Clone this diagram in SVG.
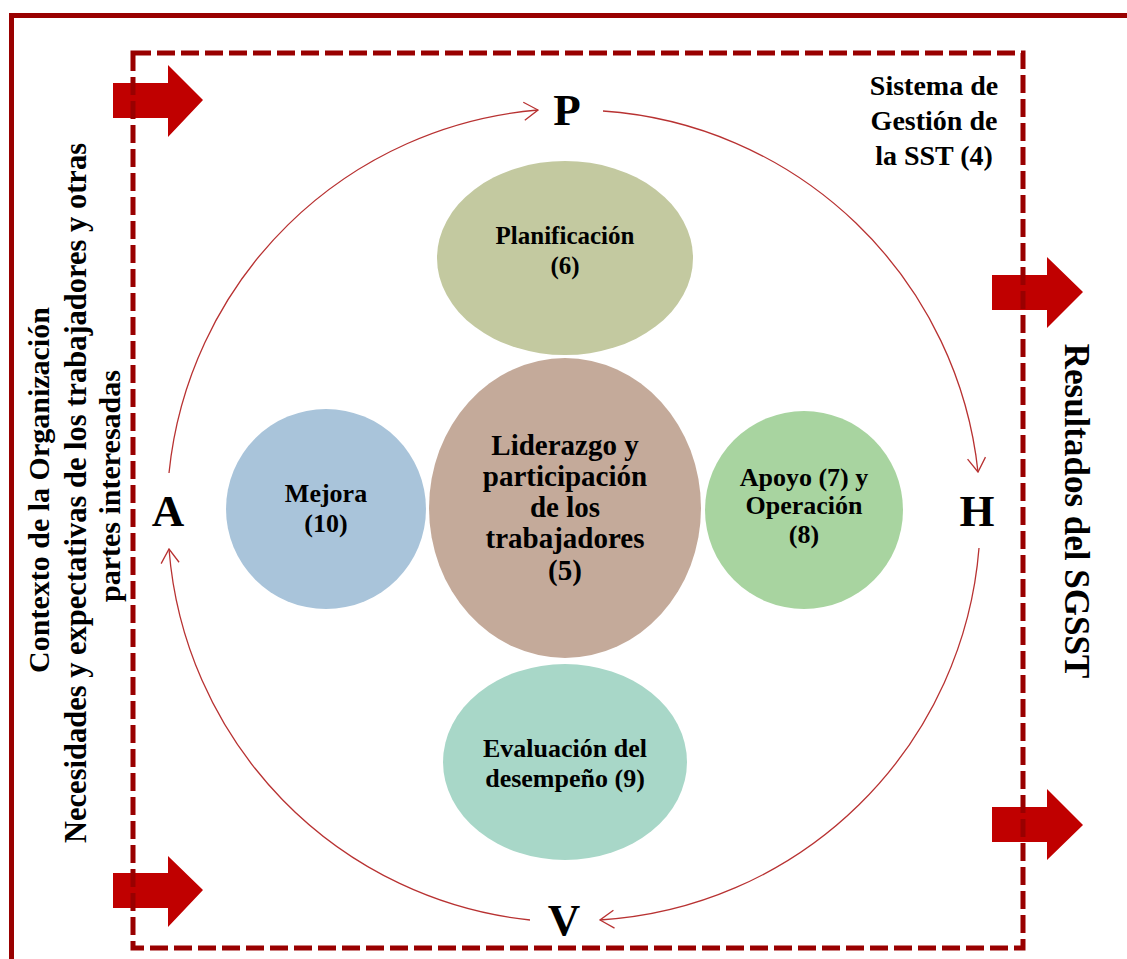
<svg xmlns="http://www.w3.org/2000/svg" width="1127" height="959" viewBox="0 0 1127 959">
<style>
.t{font-family:"Liberation Serif","Times New Roman",serif;font-weight:bold;fill:#000;text-anchor:middle}
.blk{fill:#C00000}
.arc{fill:none;stroke:#B83232;stroke-width:1.3;marker-end:url(#ah)}
</style>
<defs>
<marker id="ah" viewBox="0 0 16 20" refX="15" refY="10" markerWidth="16" markerHeight="20" markerUnits="userSpaceOnUse" orient="auto">
<path d="M1 1 L15 10 L1 19" fill="none" stroke="#B83232" stroke-width="1.3"/>
</marker>
</defs>
<rect width="1127" height="959" fill="#fff"/>
<path d="M11.5 959 V15.5 H1127" fill="none" stroke="#990000" stroke-width="5"/>
<g id="arrows-in">
<polygon class="blk" points="113,83 168,83 168,65 203,100 168,137 168,118 113,118"/>
<polygon class="blk" points="113,873 168,873 168,856 203,890 168,927 168,908 113,908"/>
</g>
<g id="arrows-out">
<polygon class="blk" points="992,275 1047,275 1047,257 1083,292 1047,328 1047,310 992,310"/>
<polygon class="blk" points="992,807 1047,807 1047,789 1083,825 1047,860 1047,842 992,842"/>
</g>
<rect id="sgsst-box" x="133" y="53" width="890" height="895" fill="none" stroke="#990000" stroke-width="5" stroke-dasharray="18 6"/>
<g id="connectors">
<path class="arc" d="M169 473 A405 405 0 0 1 538 110"/>
<path class="arc" d="M603 111 A405 405 0 0 1 978 472"/>
<path class="arc" d="M979 548 A405 405 0 0 1 600 920"/>
<path class="arc" d="M530 920 A405 405 0 0 1 169 549"/>
</g>
<g id="labels-phdv">
<text class="t" x="567" y="125" font-size="45">P</text>
<text class="t" x="977" y="526" font-size="45">H</text>
<text class="t" x="564" y="935" font-size="45">V</text>
<text class="t" x="168" y="526" font-size="45">A</text>
</g>
<g id="title">
<text class="t" font-size="28"><tspan x="934" y="95">Sistema de</tspan><tspan x="934" y="130">Gestión de</tspan><tspan x="934" y="165">la SST (4)</tspan></text>
</g>
<g id="node-planificacion">
<ellipse cx="565" cy="258" rx="128" ry="97" fill="#C3C9A0"/>
<text class="t" font-size="25"><tspan x="565" y="244">Planificación</tspan><tspan x="565" y="274">(6)</tspan></text>
</g>
<g id="node-liderazgo">
<ellipse cx="565" cy="508" rx="136" ry="150" fill="#C4AA9A"/>
<text class="t" font-size="29"><tspan x="565" y="455">Liderazgo y</tspan><tspan x="565" y="486">participación</tspan><tspan x="565" y="517">de los</tspan><tspan x="565" y="548">trabajadores</tspan><tspan x="565" y="580">(5)</tspan></text>
</g>
<g id="node-mejora">
<circle cx="326" cy="509" r="100" fill="#A9C4DA"/>
<text class="t" font-size="26"><tspan x="326" y="502">Mejora</tspan><tspan x="326" y="532">(10)</tspan></text>
</g>
<g id="node-apoyo">
<circle cx="804" cy="510" r="99" fill="#A8D4A0"/>
<text class="t" font-size="26"><tspan x="804" y="486">Apoyo (7) y</tspan><tspan x="804" y="514">Operación</tspan><tspan x="804" y="543">(8)</tspan></text>
</g>
<g id="node-evaluacion">
<ellipse cx="565" cy="762" rx="122" ry="98" fill="#A8D7C8"/>
<text class="t" font-size="26"><tspan x="565" y="757">Evaluación del</tspan><tspan x="565" y="787">desempeño (9)</tspan></text>
</g>
<g id="context-label" transform="rotate(-90)">
<text class="t" font-size="30"><tspan x="-490" y="49">Contexto de la Organización</tspan><tspan x="-493" y="86" font-size="30.5">Necesidades y expectativas de los trabajadores  y otras</tspan><tspan x="-486" y="120">partes interesadas</tspan></text>
</g>
<g id="results-label" transform="rotate(90)">
<text class="t" font-size="35" x="511" y="-1065">Resultados del SGSST</text>
</g>
</svg>
